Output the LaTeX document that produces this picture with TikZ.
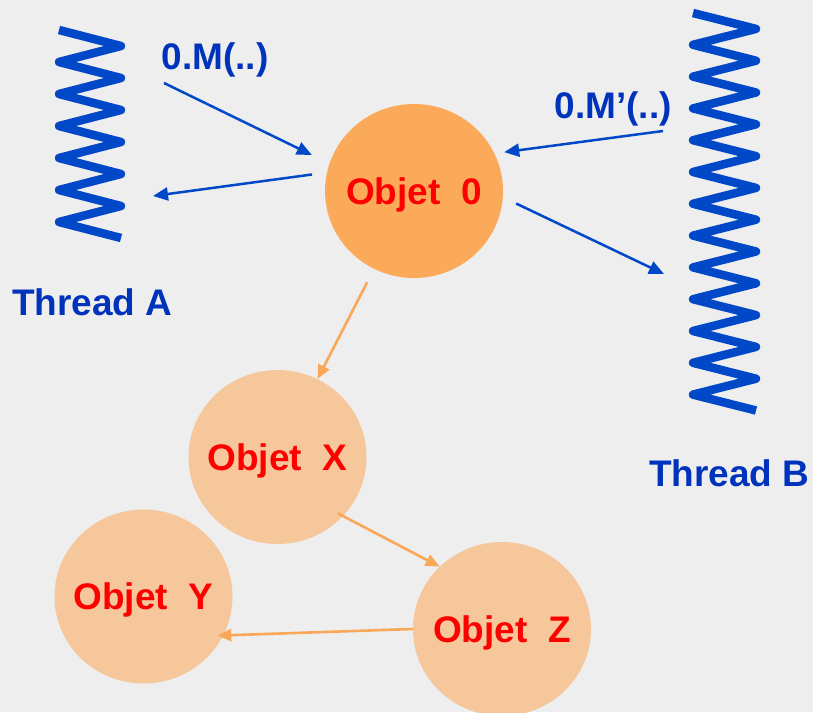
\documentclass[tikz,border=0pt]{standalone}
\usepackage{fontspec}
\setmainfont{Liberation Sans}
\usetikzlibrary{arrows.meta,shapes.geometric}

\definecolor{paper}{RGB}{238,238,238}
\definecolor{hot}{RGB}{251,170,90}
\definecolor{warm}{RGB}{245,199,154}
\definecolor{zigblue}{RGB}{0,72,200}
\definecolor{inkblue}{RGB}{0,51,187}
\definecolor{objred}{RGB}{255,0,0}
\definecolor{linkorange}{RGB}{250,168,88}

\begin{document}
\begin{tikzpicture}[x=1pt,y=-1pt,
  big/.style={font=\fontsize{37}{40}\selectfont\bfseries},
  objet/.style={ellipse, draw=none, inner sep=0pt,
    minimum width=178pt, minimum height=174pt,
    big, text=objred, text height=26.5pt, text depth=0pt},
  tlabel/.style={big, text=inkblue, inner sep=0pt, anchor=base west},
  zig/.style={draw=zigblue, line width=8.5pt, line join=round, line cap=butt},
  msg/.style={draw=zigblue, line width=2.5pt,
    -{Triangle[length=15pt,width=13pt]}},
  link/.style={draw=linkorange, line width=2.6pt,
    -{Triangle[length=14pt,width=12pt]}}
]
\useasboundingbox (0,0) rectangle (813,712);
\fill[paper] (0,0) rectangle (813,712);

% objects
\node[objet, fill=hot]  (o0) at (414,191)     {\makebox[0pt]{Objet~~0}};
\node[objet, fill=warm] (ox) at (277.5,457)   {\makebox[0pt]{Objet~~X}};
\node[objet, fill=warm] (oy) at (143.5,596.5) {\makebox[0pt]{Objet~~Y}};
\node[objet, fill=warm] (oz) at (502,629)     {\makebox[0pt]{Objet~~Z}};

% threads drawn as zigzag springs
\draw[zig] (59,30) \foreach \i in {1,...,13}
  { -- ({ifthenelse(isodd(\i),121,59)},{30+16*\i}) };
\draw[zig] (693,13) \foreach \i in {1,...,25}
  { -- ({ifthenelse(isodd(\i),756,693)},{13+15.9*\i}) };

% labels
\node[tlabel] (lm)  at (161.5,69.5) {0.M(..)};
\node[tlabel] (lmp) at (554.5,118)  {0.M’(..)};
\node[tlabel] (ta)  at (12,315)     {Thread A};
\node[tlabel] (tb)  at (649,486)    {Thread B};

% free ends of the calls on the thread side
\coordinate (a-call) at (164,83);
\coordinate (a-back) at (153,196);
\coordinate (b-call) at (663,131);
\coordinate (b-back) at (664,274);

% method calls and returns
\draw[msg, shorten >=19.5pt] (a-call) -- (o0.162);
\draw[msg, shorten <=15pt]   (o0.168) -- (a-back);
\draw[msg, shorten >=9.8pt]  (b-call) -- (o0.25);
\draw[msg, shorten <=14.6pt] (o0.-4.4) -- (b-back);

% references between objects
\draw[link, shorten <=15pt] (o0) -- (ox);
\draw[link, shorten <=-6pt] (ox.-42) -- (oz.135.5);
\draw[link, shorten >=-6pt] (oz.180) -- (oy.-26.4);
\end{tikzpicture}
\end{document}
